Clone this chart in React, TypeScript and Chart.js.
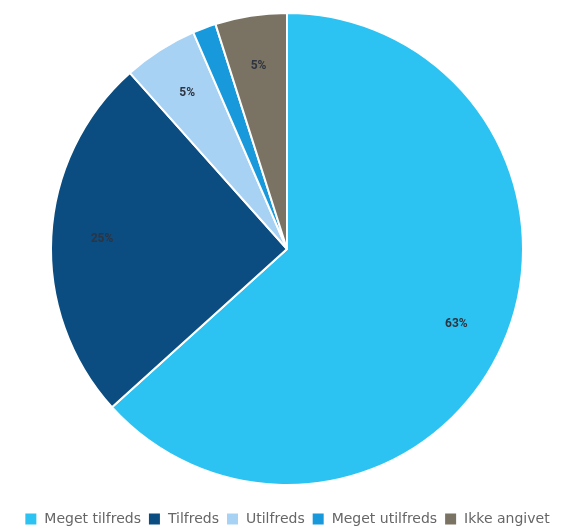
import React, { useEffect, useRef } from "react";
import { Chart, registerables } from "chart.js";

Chart.register(...registerables);

const categories = ["Meget tilfreds", "Tilfreds", "Utilfreds", "Meget utilfreds", "Ikke angivet"];
const values = [63.3, 25.1, 5.1, 1.6, 4.9];
const colors = ["#2cc3f2", "#0b4d80", "#a8d2f4", "#1799dc", "#7a7262"];

const labelPlugin = {
  id: "sliceLabels",
  afterDatasetsDraw(chart: any) {
    const ctx = chart.ctx;
    const meta = chart.getDatasetMeta(0);
    const data = chart.data.datasets[0].data as number[];
    ctx.save();
    ctx.font = "bold 12px Roboto, 'Open Sans', sans-serif";
    ctx.fillStyle = "#2e3440";
    ctx.textAlign = "center";
    ctx.textBaseline = "middle";
    meta.data.forEach((arc: any, i: number) => {
      const v = data[i];
      if (v < 3) return;
      const p = arc.getProps(["x", "y", "startAngle", "endAngle", "outerRadius"], true);
      const mid = (p.startAngle + p.endAngle) / 2;
      const r = p.outerRadius * 0.785;
      ctx.fillText(Math.round(v) + "%", p.x + Math.cos(mid) * r, p.y + Math.sin(mid) * r);
    });
    ctx.restore();
  },
};

export default function App() {
  const ref = useRef<HTMLCanvasElement | null>(null);
  useEffect(() => {
    if (!ref.current) return;
    const chart = new Chart(ref.current, {
      type: "pie",
      data: {
        labels: categories,
        datasets: [
          {
            data: values,
            backgroundColor: colors,
            borderColor: "#ffffff",
            borderWidth: 2,
          },
        ],
      },
      options: {
        animation: false,
        responsive: false,
        layout: { padding: { top: 4, left: 8, right: 0, bottom: 0 } },
        plugins: {
          tooltip: { enabled: false },
          legend: {
            position: "bottom",
            title: { display: true, text: " ", padding: 0, font: { size: 19, lineHeight: 1 } },
            labels: {
              boxWidth: 13,
              boxHeight: 13,
              padding: 7,
              color: "#666666",
              font: { size: 14, family: "'DejaVu Sans', sans-serif" },
            },
          },
        },
      },
      plugins: [labelPlugin],
    });
    return () => chart.destroy();
  }, []);
  return (
    <div style={{ width: 550, height: 528 }}>
      <canvas ref={ref} width={550} height={528} />
    </div>
  );
}
